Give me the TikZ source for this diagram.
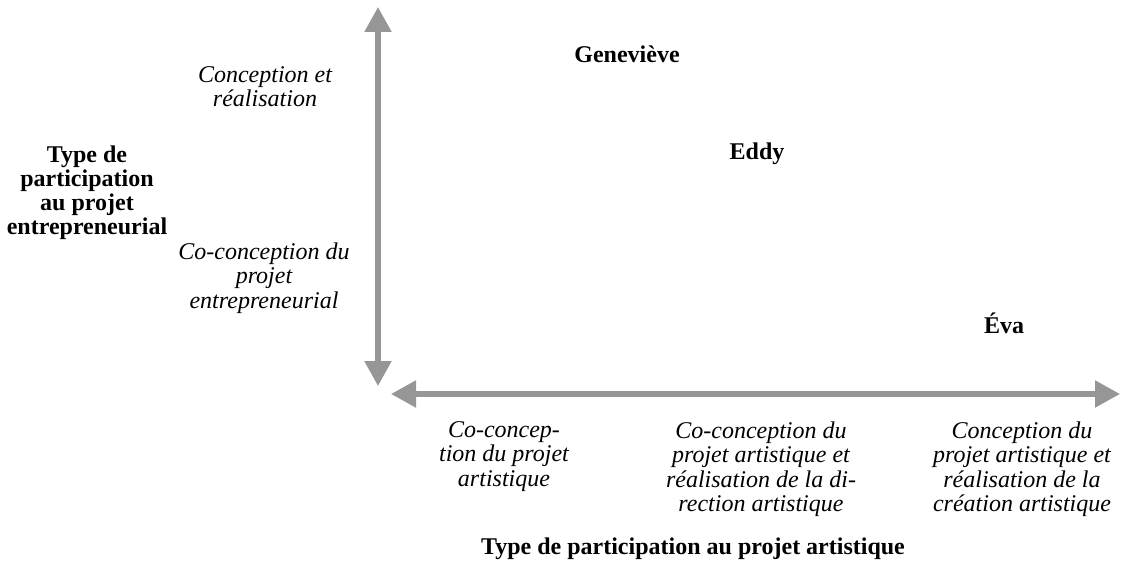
\documentclass[tikz,border=0pt]{standalone}
\usepackage{fontspec}
\setmainfont{Liberation Serif}
\usetikzlibrary{arrows.meta}
\definecolor{axisgray}{RGB}{150,150,150}

\begin{document}
\begin{tikzpicture}[x=0.5pt, y=-0.5pt,
    axis/.style={line width=2.6pt, draw=axisgray, {Triangle[width=13pt,length=12.5pt,fill=axisgray]}-{Triangle[width=13pt,length=12.5pt,fill=axisgray]}},
    level/.style={font=\fontsize{12}{12.25}\itshape, align=center, inner sep=0pt, anchor=north},
    who/.style={font=\fontsize{12}{14}\bfseries, inner sep=0pt, anchor=base},
    axtitle/.style={font=\fontsize{12}{12.15}\bfseries, align=center, inner sep=0pt}]
    \useasboundingbox (0,0) rectangle (1121,583);

    % Axes
    \coordinate (ytop) at (378,7);
    \coordinate (ybot) at (378,386);
    \coordinate (xleft) at (391,394);
    \coordinate (xright) at (1120,394);
    \draw[axis] (ybot) -- (ytop);
    \draw[axis] (xleft) -- (xright);

    % Vertical axis labels
    \node[axtitle, anchor=north] (ytitle) at (87,145) {Type de\\participation\\au projet\\entrepreneurial};
    \node[level] (yhigh) at (265,66) {Conception et\\réalisation};
    \node[level] (ylow) at (264,242) {Co-conception du\\projet\\entrepreneurial};

    % Horizontal axis labels
    \node[level] (xlow) at (504,421) {Co-concep-\\tion du projet\\artistique};
    \node[level] (xmid) at (761,421) {Co-conception du\\projet artistique et\\réalisation de la di-\\rection artistique};
    \node[level] (xhigh) at (1022,421) {Conception du\\projet artistique et\\réalisation de la\\création artistique};
    \node[axtitle, anchor=base] (xtitle) at (693,554) {Type de participation au projet artistique};

    % Cases
    \node[who] (gen) at (627,63) {Geneviève};
    \node[who] (eddy) at (757,160) {Eddy};
    \node[who] (eva) at (1004,334) {Éva};
\end{tikzpicture}
\end{document}
